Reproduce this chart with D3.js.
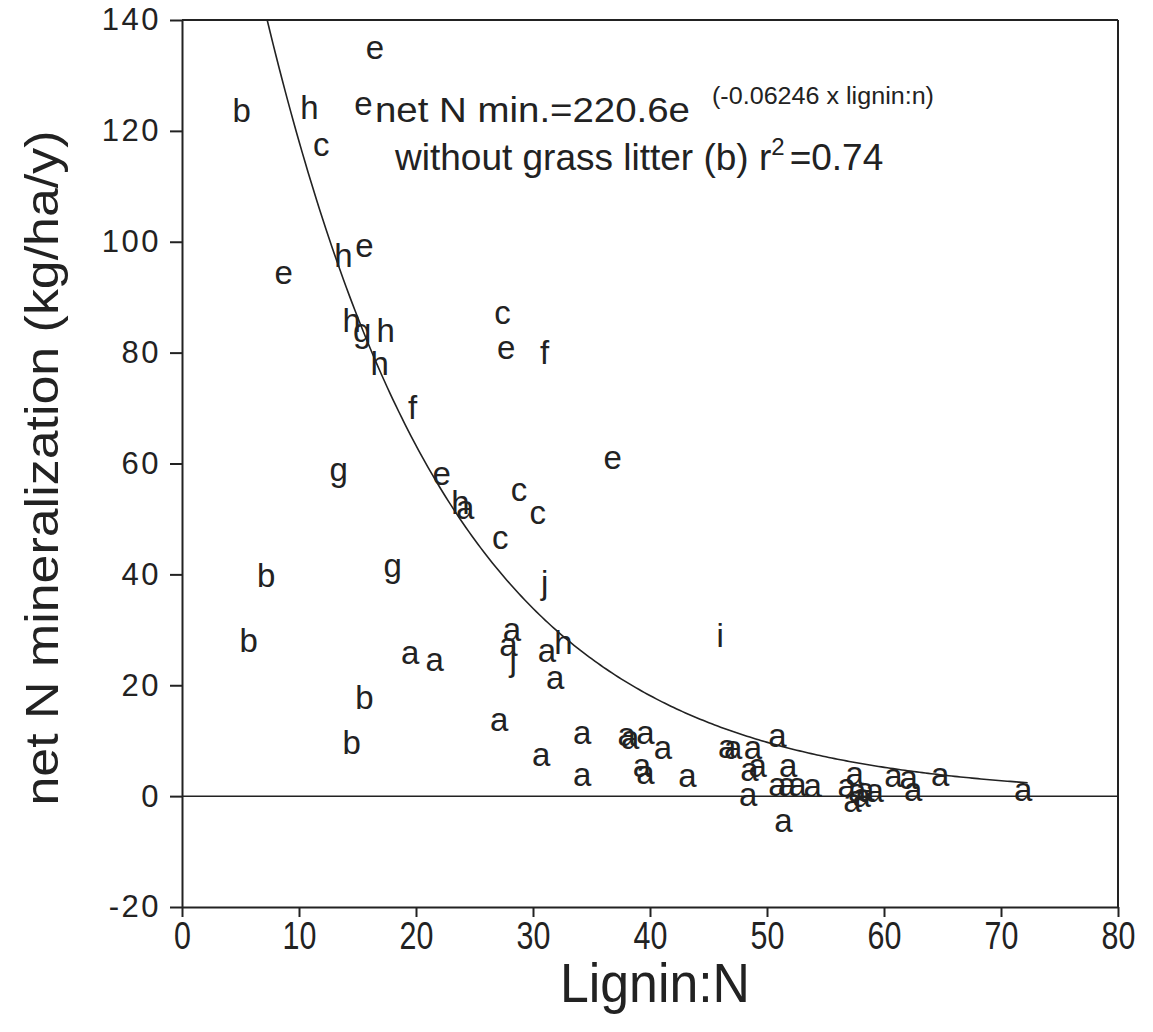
<!DOCTYPE html>
<html>
<head>
<meta charset="utf-8">
<script src="https://cdn.jsdelivr.net/npm/d3@7"></script>
<style>
  body { margin: 0; background: #fff; }
  svg { font-family: "Liberation Sans", Arial, sans-serif; }
  .axis path, .axis line { stroke: #222; stroke-width: 2; }
  .axis text { fill: #222; }
</style>
</head>
<body>
<svg id="chart"></svg>
<script>
// site codes, lignin:N and net N mineralization
const siteCode = ['e','b','h','e','c','h','e','e','c','h','g','h','e','f','h','f','g','e','e','h',
  'a','c','c','c','b','g','j','i','b','a','a','j','a','h','a','a','a','b','a','b',
  'a','a','a','a','a','a','a','a','a','a','a','a','a','a','a','a','a','a','a','a',
  'a','a','a','a','a','a','a','a','a','a','a','a','a','a','a'];
const ligninN = [16.5,5.1,10.9,15.5,11.9,13.8,15.6,8.7,27.4,14.5,15.4,17.4,27.7,31.0,16.9,19.7,13.4,36.8,22.2,23.8,
  24.2,28.8,30.4,27.2,7.2,18.0,31.0,46.0,5.7,28.2,27.9,28.3,31.2,32.6,19.5,21.6,31.9,15.6,27.1,14.5,
  30.7,34.2,34.2,38.0,38.3,39.6,41.1,39.3,39.6,43.2,46.6,47.1,48.8,50.9,48.5,49.2,51.8,48.4,50.9,51.7,
  52.6,53.9,51.4,57.5,56.8,57.7,58.4,59.2,57.3,58.1,60.8,62.1,62.5,64.8,71.9];
const netNmin = [134.6,123.2,123.7,124.5,117.1,97.0,98.8,94.0,86.8,85.3,83.5,83.5,80.4,79.5,77.6,69.6,58.4,60.6,57.7,52.5,
  51.6,54.8,50.7,46.2,39.3,41.1,38.1,28.5,27.6,29.6,26.9,24.2,25.8,27.2,25.4,24.2,20.9,17.3,13.3,9.2,
  7.0,11.0,3.4,10.6,10.1,11.0,8.3,5.1,3.8,3.2,8.5,8.3,8.3,10.5,4.3,5.1,5.1,-0.2,1.6,1.6,
  1.6,1.4,-4.9,3.6,1.4,0.5,0.7,0.5,-1.3,-0.4,3.2,2.9,0.7,3.4,0.7];

const xTicks = [0,10,20,30,40,50,60,70,80];
const yTicks = [-20,0,20,40,60,80,100,120,140];

// fitted curve from the figure: net N min. = 220.6 e^(-0.06246 x lignin:N)
const fitA = 220.6, fitK = -0.06246;
const fitFrom = 7.28, fitTo = 72.4;

const points = siteCode.map((c, i) => ({code: c, x: ligninN[i], y: netNmin[i]}));

const W = 1153, H = 1032;
const margin = {top: 20, right: 35, bottom: 125, left: 182};
const width = W - margin.left - margin.right;
const height = H - margin.top - margin.bottom;

const svg = d3.select('#chart').attr('width', W).attr('height', H);
const g = svg.append('g').attr('transform', `translate(${margin.left},${margin.top})`);

const x = d3.scaleLinear().domain([0, 80]).range([0, width]);
const y = d3.scaleLinear().domain([-20, 140]).range([height, 0]);

// frame: top and right
g.append('line').attr('x1', x(0)).attr('x2', x(80)).attr('y1', y(140)).attr('y2', y(140))
  .attr('stroke', '#222').attr('stroke-width', 2);
g.append('line').attr('x1', x(80)).attr('x2', x(80)).attr('y1', y(140)).attr('y2', y(-20))
  .attr('stroke', '#222').attr('stroke-width', 2);

// zero line
g.append('line').attr('x1', x(0)).attr('x2', x(80)).attr('y1', y(0)).attr('y2', y(0))
  .attr('stroke', '#222').attr('stroke-width', 1.5);

// axes
const xAxisG = g.append('g').attr('class', 'axis')
  .attr('transform', `translate(0,${height})`)
  .call(d3.axisBottom(x).tickValues(xTicks).tickSize(10).tickSizeOuter(0).tickPadding(5)
    .tickFormat(d => String(d)));
xAxisG.selectAll('text').attr('font-size', 38).attr('transform', 'scale(0.8,1)');

const yAxisG = g.append('g').attr('class', 'axis')
  .call(d3.axisLeft(y).tickValues(yTicks).tickSize(12).tickSizeOuter(0).tickPadding(9)
    .tickFormat(d => String(d)));
yAxisG.selectAll('text').attr('font-size', 31).attr('letter-spacing', 2.5);

// fitted curve
const curveData = d3.range(fitFrom, fitTo + 0.001, 0.25).map(v => ({x: v, y: fitA * Math.exp(fitK * v)}));
g.append('path').datum(curveData)
  .attr('fill', 'none').attr('stroke', '#222').attr('stroke-width', 1.6)
  .attr('d', d3.line().x(d => x(d.x)).y(d => y(d.y)));

// letter markers
g.selectAll('.pt').data(points).join('text')
  .attr('class', 'pt')
  .attr('x', d => x(d.x))
  .attr('y', d => y(d.y))
  .attr('dy', '0.27em')
  .attr('text-anchor', 'middle')
  .attr('font-size', 33)
  .attr('fill', '#222')
  .text(d => d.code);

// equation annotation
g.append('text').attr('x', 193).attr('y', 102).attr('font-size', 35).attr('fill', '#222')
  .attr('textLength', 315).attr('lengthAdjust', 'spacingAndGlyphs')
  .text('net N min.=220.6e');
g.append('text').attr('x', 530).attr('y', 84).attr('font-size', 23).attr('fill', '#222')
  .attr('textLength', 222).attr('lengthAdjust', 'spacingAndGlyphs')
  .text('(-0.06246 x lignin:n)');
const t2 = g.append('text').attr('x', 213).attr('y', 150).attr('font-size', 37).attr('fill', '#222');
t2.append('tspan').text('without grass litter (b) r');
t2.append('tspan').attr('font-size', 24).attr('dy', -15).text('2');
t2.append('tspan').attr('dy', 15).attr('dx', 5).text('=0.74');

// axis titles
svg.append('text')
  .attr('transform', `translate(58,468) rotate(-90)`)
  .attr('text-anchor', 'middle')
  .attr('font-size', 46)
  .attr('textLength', 675).attr('lengthAdjust', 'spacingAndGlyphs')
  .attr('fill', '#222')
  .text('net N mineralization (kg/ha/y)');

svg.append('text')
  .attr('x', 655).attr('y', 1002)
  .attr('text-anchor', 'middle')
  .attr('font-size', 56)
  .attr('textLength', 190).attr('lengthAdjust', 'spacingAndGlyphs')
  .attr('fill', '#222')
  .text('Lignin:N');
</script>
</body>
</html>
